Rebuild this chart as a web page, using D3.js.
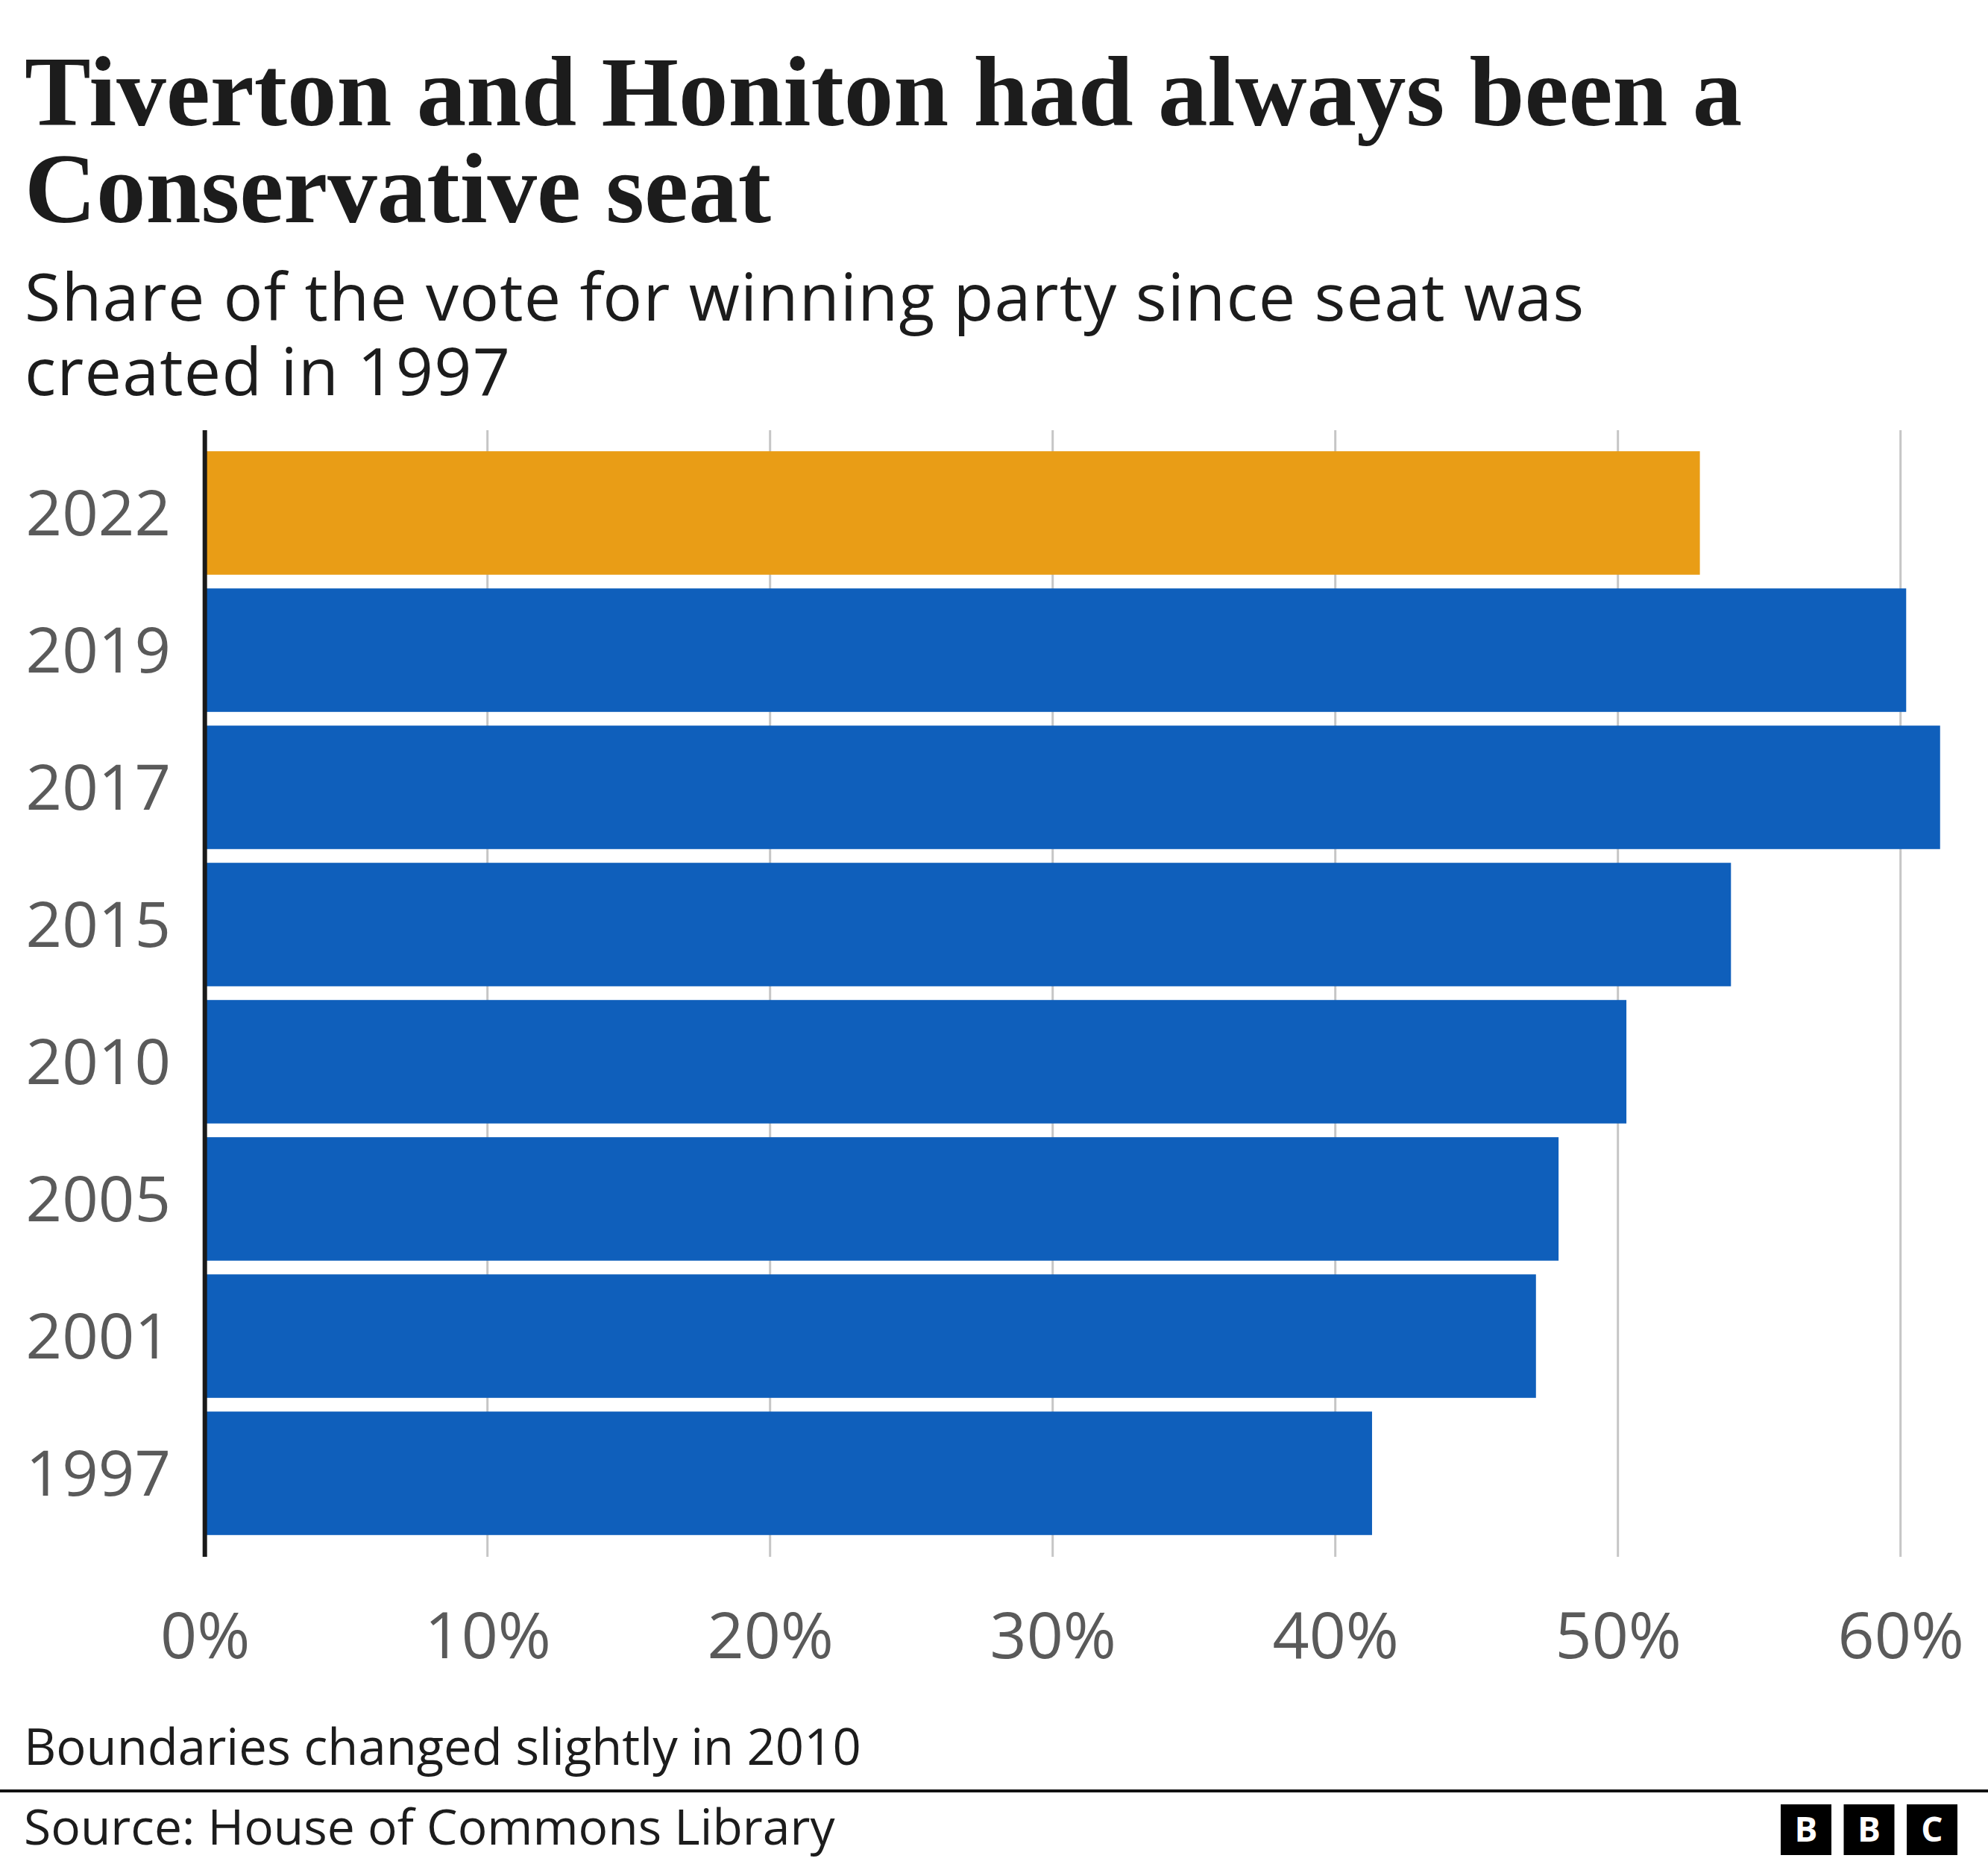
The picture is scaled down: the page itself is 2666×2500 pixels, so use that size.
<!DOCTYPE html>
<html>
<head>
<meta charset="utf-8">
<script src="https://cdn.jsdelivr.net/npm/d3@7"></script>
<style>
  html, body { margin: 0; padding: 0; background: #fff; }
  svg { display: block; }
</style>
</head>
<body>
<script>
// ---- Data ----
const years   = ["2022", "2019", "2017", "2015", "2010", "2005", "2001", "1997"];
const shares  = [52.9, 60.2, 61.4, 54.0, 50.3, 47.9, 47.1, 41.3];
const parties = ["Liberal Democrat", "Conservative", "Conservative", "Conservative",
                 "Conservative", "Conservative", "Conservative", "Conservative"];
const tickValues = [0, 10, 20, 30, 40, 50, 60];
const partyColours = { "Liberal Democrat": "#e99d16", "Conservative": "#0f5fbb" };

const titleLines = ["Tiverton and Honiton had always been a", "Conservative seat"];
const subtitleLines = ["Share of the vote for winning party since seat was", "created in 1997"];
const noteText = "Boundaries changed slightly in 2010";
const sourceText = "Source: House of Commons Library";

// ---- Layout ----
const W = 2666, H = 2500;
const svg = d3.select("body").append("svg").attr("width", W).attr("height", H)
  .style("font-family", "'Open Sans', sans-serif");

const x = d3.scaleLinear().domain([0, 60]).range([274.7, 2548.7]);
const y = d3.scaleBand().domain(years).range([596, 596 + 8 * 184])
  .paddingInner(0.1).paddingOuter(0.05);

const gridTop = 577, gridBottom = 2088;

// Title (one text element, two lines)
svg.append("text")
  .attr("font-family", "'Liberation Serif', serif").attr("font-weight", "bold")
  .attr("font-size", 133).attr("fill", "#1c1c1c")
  .selectAll("tspan").data(titleLines).join("tspan")
  .attr("x", 33).attr("y", (d, i) => 168 + i * 130).text(d => d);

// Subtitle
svg.append("text")
  .attr("font-size", 88).attr("letter-spacing", 1.2).attr("fill", "#1c1c1c")
  .selectAll("tspan").data(subtitleLines).join("tspan")
  .attr("x", 33).attr("y", (d, i) => 430 + i * 100).text(d => d);

// Gridlines
svg.append("g").selectAll("line").data(tickValues.filter(v => v > 0)).join("line")
  .attr("x1", d => x(d)).attr("x2", d => x(d))
  .attr("y1", gridTop).attr("y2", gridBottom)
  .attr("stroke", "#c6c6c6").attr("stroke-width", 3);

// Bars
svg.append("g").selectAll("rect").data(years).join("rect")
  .attr("x", x(0))
  .attr("y", d => y(d))
  .attr("width", (d, i) => x(shares[i]) - x(0))
  .attr("height", y.bandwidth())
  .attr("fill", (d, i) => partyColours[parties[i]]);

// Zero axis line
svg.append("line")
  .attr("x1", x(0)).attr("x2", x(0)).attr("y1", gridTop).attr("y2", gridBottom)
  .attr("stroke", "#1a1a1a").attr("stroke-width", 6);

// Y axis labels
const yAxis = d3.axisLeft(y).tickSize(0).tickPadding(0);
const gy = svg.append("g").attr("transform", "translate(229,0)").call(yAxis);
gy.select(".domain").remove();
gy.selectAll("text").attr("font-family", "'Open Sans', sans-serif")
  .attr("font-size", 85).attr("fill", "#5a5a5a").attr("dy", "0.35em");

// X axis labels
const xAxis = d3.axisBottom(x).tickValues(tickValues).tickSize(0).tickPadding(0)
  .tickFormat(d => d + "%");
const gx = svg.append("g").attr("transform", "translate(0,2224)").call(xAxis);
gx.select(".domain").remove();
gx.selectAll("text").attr("font-family", "'Open Sans', sans-serif")
  .attr("font-size", 86).attr("fill", "#5a5a5a").attr("dy", 0).attr("y", 0);

// Note
svg.append("text").attr("x", 32).attr("y", 2367)
  .attr("font-size", 67).attr("fill", "#1c1c1c").text(noteText);

// Separator
svg.append("line").attr("x1", 0).attr("x2", W).attr("y1", 2402).attr("y2", 2402)
  .attr("stroke", "#111").attr("stroke-width", 4);

// Source
svg.append("text").attr("x", 32).attr("y", 2474)
  .attr("font-size", 66).attr("fill", "#1c1c1c").text(sourceText);

// BBC logo
const logoLetters = ["B", "B", "C"];
const logo = svg.append("g").attr("transform", "translate(2388,2420)");
logo.selectAll("rect").data(logoLetters).join("rect")
  .attr("x", (d, i) => i * 84.5).attr("y", 0).attr("width", 68).attr("height", 68)
  .attr("fill", "#000");
logo.selectAll("text").data(logoLetters).join("text")
  .attr("x", (d, i) => i * 84.5 + 34).attr("y", 50)
  .attr("text-anchor", "middle").attr("font-family", "'Open Sans', sans-serif")
  .attr("font-weight", "bold").attr("font-size", 46).attr("fill", "#fff").text(d => d);
</script>
</body>
</html>
